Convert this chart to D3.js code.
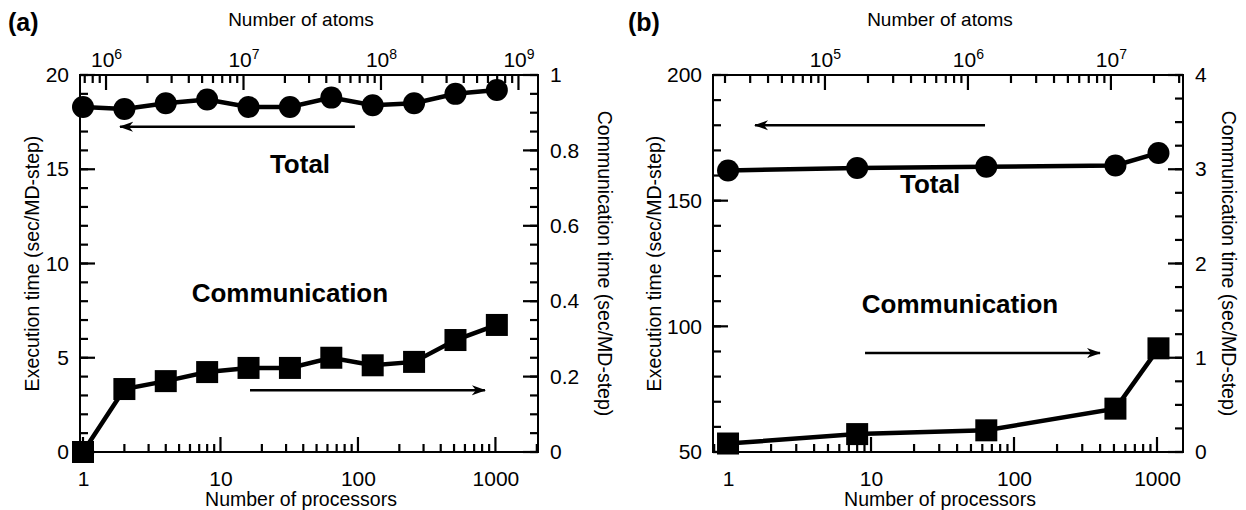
<!DOCTYPE html>
<html>
<head>
<meta charset="utf-8">
<script src="https://cdn.jsdelivr.net/npm/d3@7"></script>
<style>
  body { margin: 0; background: #fff; }
  svg { font-family: "Liberation Sans", Arial, sans-serif; }
  .tick text { font-size: 21px; fill: #000; }
</style>
</head>
<body>
<div id="chart"></div>
<script>
// data
var procA = [1, 2, 4, 8, 16, 32, 64, 128, 256, 512, 1024];
var totalA = [18.3, 18.2, 18.5, 18.7, 18.3, 18.3, 18.8, 18.4, 18.5, 19.0, 19.2];
var commA = [0, 0.167, 0.188, 0.212, 0.223, 0.223, 0.25, 0.23, 0.239, 0.297, 0.337];

var procB = [1, 8, 64, 512, 1024];
var totalB = [162, 163, 163.5, 164, 169];
var commB = [0.09, 0.19, 0.23, 0.46, 1.1];

// tick values
var procTicks = [1, 10, 100, 1000];
var atomTicksA = [1e6, 1e7, 1e8, 1e9];
var atomTicksB = [1e5, 1e6, 1e7];
var execTicksA = [0, 5, 10, 15, 20];
var commTicksA = [0, 0.2, 0.4, 0.6, 0.8, 1];
var execTicksB = [50, 100, 150, 200];
var commTicksB = [0, 1, 2, 3, 4];

var svgWidth = 1246;
var svgHeight = 510;

var svg = d3.select("#chart")
  .append("svg")
  .attr("width", svgWidth)
  .attr("height", svgHeight);

var defs = svg.append("defs");
defs.append("marker")
  .attr("id", "head")
  .attr("viewBox", "0 -6 14 12")
  .attr("refX", 13)
  .attr("refY", 0)
  .attr("markerWidth", 14)
  .attr("markerHeight", 12)
  .attr("markerUnits", "userSpaceOnUse")
  .attr("orient", "auto")
  .append("path")
  .attr("d", "M0,-5 L14,0 L0,5 L4,0 Z")
  .attr("fill", "#000");

// minor ticks of a log axis (2..9 of each decade)
function logMinor(domain) {
  var out = [];
  var lo = Math.floor(Math.log10(domain[0]));
  var hi = Math.ceil(Math.log10(domain[1]));
  for (var e = lo; e <= hi; e++) {
    for (var m = 2; m <= 9; m++) {
      var v = m * Math.pow(10, e);
      if (v >= domain[0] && v <= domain[1]) out.push(v);
    }
  }
  return out;
}

function linMinor(domain, step) {
  var out = [];
  var n = Math.round((domain[1] - domain[0]) / step);
  for (var i = 0; i <= n; i++) out.push(domain[0] + i * step);
  return out;
}

// inward tick marks
function tickLines(g, values, scale, side, pos, len) {
  var horiz = side == "bottom" || side == "top";
  var dir = (side == "bottom" || side == "right") ? -1 : 1;
  g.selectAll(null).data(values).enter()
    .append("line")
    .attr("x1", function(d) { return horiz ? scale(d) : pos; })
    .attr("x2", function(d) { return horiz ? scale(d) : pos + dir * len; })
    .attr("y1", function(d) { return horiz ? pos : scale(d); })
    .attr("y2", function(d) { return horiz ? pos + dir * len : scale(d); })
    .attr("stroke", "#000")
    .attr("stroke-width", 2.2);
}

function drawPanel(p) {
  var x = d3.scaleLog().domain(p.xDomain).range([p.left, p.right]);
  var topDomain = p.xDomain.map(function(v) { return v * p.atomsPerProc; });
  var xTop = d3.scaleLog().domain(topDomain).range([p.left, p.right]);
  var yL = d3.scaleLinear().domain(p.leftDomain).range([p.bottom, p.top]);
  var yR = d3.scaleLinear().domain(p.rightDomain).range([p.bottom, p.top]);

  var g = svg.append("g");

  // tick marks
  tickLines(g, logMinor(p.xDomain), x, "bottom", p.bottom, 8);
  tickLines(g, p.xTicks, x, "bottom", p.bottom, 15);
  tickLines(g, logMinor(topDomain), xTop, "top", p.top, 8);
  tickLines(g, p.topTicks, xTop, "top", p.top, 15);
  tickLines(g, linMinor(p.leftDomain, p.leftMinor), yL, "left", p.left, 8);
  tickLines(g, p.leftTicks, yL, "left", p.left, 15);
  tickLines(g, linMinor(p.rightDomain, p.rightMinor), yR, "right", p.right, 8);
  tickLines(g, p.rightTicks, yR, "right", p.right, 15);

  // tick labels
  g.append("g").attr("transform", `translate(0, ${p.bottom})`)
    .call(d3.axisBottom(x).tickValues(p.xTicks).tickSize(0).tickPadding(19).tickFormat(d3.format("d")));
  var topAx = g.append("g").attr("transform", `translate(0, ${p.top})`)
    .call(d3.axisTop(xTop).tickValues(p.topTicks).tickSize(0).tickPadding(8).tickFormat(""));
  topAx.selectAll(".tick text").each(function(d) {
    var t = d3.select(this);
    t.text("10");
    t.append("tspan")
      .attr("dy", "-0.55em")
      .attr("font-size", "14px")
      .text(Math.round(Math.log10(d)));
  });
  g.append("g").attr("transform", `translate(${p.left}, 0)`)
    .call(d3.axisLeft(yL).tickValues(p.leftTicks).tickSize(0).tickPadding(11).tickFormat(function(d) { return d; }));
  g.append("g").attr("transform", `translate(${p.right}, 0)`)
    .call(d3.axisRight(yR).tickValues(p.rightTicks).tickSize(0).tickPadding(12).tickFormat(function(d) { return d; }));

  g.selectAll(".domain").remove();

  // frame
  g.append("rect")
    .attr("x", p.left).attr("y", p.top)
    .attr("width", p.right - p.left).attr("height", p.bottom - p.top)
    .attr("fill", "none").attr("stroke", "#000").attr("stroke-width", 2);

  // axis titles
  g.append("text")
    .attr("x", (p.left + p.right) / 2 - 8).attr("y", 26)
    .attr("text-anchor", "middle").attr("font-size", "19px")
    .text("Number of atoms");
  g.append("text")
    .attr("x", (p.left + p.right) / 2 - 8).attr("y", 506)
    .attr("text-anchor", "middle").attr("font-size", "19.5px")
    .text("Number of processors");
  g.append("text")
    .attr("transform", `translate(${p.leftTitleX}, ${(p.top + p.bottom) / 2}) rotate(-90)`)
    .attr("text-anchor", "middle").attr("font-size", "19.5px")
    .text("Execution time (sec/MD-step)");
  g.append("text")
    .attr("transform", `translate(${p.rightTitleX}, ${(p.top + p.bottom) / 2}) rotate(90)`)
    .attr("text-anchor", "middle").attr("font-size", "19.5px")
    .text("Communication time (sec/MD-step)");
  g.append("text")
    .attr("x", p.tagX).attr("y", 31)
    .attr("font-size", "25px").attr("font-weight", "bold")
    .text(p.tag);

  // arrows
  g.append("line")
    .attr("x1", x(p.totalArrow[0])).attr("x2", x(p.totalArrow[1]))
    .attr("y1", yL(p.totalArrow[2])).attr("y2", yL(p.totalArrow[2]))
    .attr("stroke", "#000").attr("stroke-width", 2.5)
    .attr("marker-end", "url(#head)");
  g.append("line")
    .attr("x1", x(p.commArrow[0])).attr("x2", x(p.commArrow[1]))
    .attr("y1", yR(p.commArrow[2])).attr("y2", yR(p.commArrow[2]))
    .attr("stroke", "#000").attr("stroke-width", 2.5)
    .attr("marker-end", "url(#head)");

  // series labels
  g.append("text")
    .attr("x", x(p.totalLabel[0])).attr("y", yL(p.totalLabel[1]))
    .attr("text-anchor", "middle").attr("font-size", "26px").attr("font-weight", "bold")
    .text("Total");
  g.append("text")
    .attr("x", x(p.commLabel[0])).attr("y", yL(p.commLabel[1]))
    .attr("text-anchor", "middle").attr("font-size", "26px").attr("font-weight", "bold")
    .text("Communication");

  // total series (left axis)
  var totalLine = d3.line()
    .x(function(d, i) { return x(p.proc[i]); })
    .y(function(d) { return yL(d); });
  g.append("path")
    .datum(p.total)
    .attr("d", totalLine)
    .attr("fill", "none").attr("stroke", "#000").attr("stroke-width", 4.5);
  g.selectAll(null).data(p.total).enter()
    .append("circle")
    .attr("cx", function(d, i) { return x(p.proc[i]); })
    .attr("cy", function(d) { return yL(d); })
    .attr("r", 11)
    .attr("fill", "#000");

  // communication series (right axis)
  var commLine = d3.line()
    .x(function(d, i) { return x(p.proc[i]); })
    .y(function(d) { return yR(d); });
  g.append("path")
    .datum(p.comm)
    .attr("d", commLine)
    .attr("fill", "none").attr("stroke", "#000").attr("stroke-width", 4.5);
  g.selectAll(null).data(p.comm).enter()
    .append("rect")
    .attr("x", function(d, i) { return x(p.proc[i]) - 11; })
    .attr("y", function(d) { return yR(d) - 11; })
    .attr("width", 22).attr("height", 22)
    .attr("fill", "#000");
}

drawPanel({
  tag: "(a)", tagX: 8,
  left: 80, right: 538, top: 75, bottom: 452,
  xDomain: [0.951, 2040], atomsPerProc: 6.8e5,
  leftDomain: [0, 20], rightDomain: [0, 1],
  leftMinor: 1, rightMinor: 0.05,
  xTicks: procTicks, topTicks: atomTicksA,
  leftTicks: execTicksA, rightTicks: commTicksA,
  leftTitleX: 39, rightTitleX: 598,
  proc: procA, total: totalA, comm: commA,
  totalArrow: [95, 1.86, 17.25], commArrow: [16.4, 839, 0.164],
  totalLabel: [37.9, 14.8], commLabel: [32, 7.96]
});

drawPanel({
  tag: "(b)", tagX: 628,
  left: 713, right: 1183, top: 75, bottom: 452,
  xDomain: [0.785, 1520], atomsPerProc: 2.1e4,
  leftDomain: [50, 200], rightDomain: [0, 4],
  leftMinor: 10, rightMinor: 0.25,
  xTicks: procTicks, topTicks: atomTicksB,
  leftTicks: execTicksB, rightTicks: commTicksB,
  leftTitleX: 661, rightTitleX: 1222,
  proc: procB, total: totalB, comm: commB,
  totalArrow: [62.7, 1.545, 180], commArrow: [9.08, 399, 1.05],
  totalLabel: [25.9, 153], commLabel: [41.9, 105.3]
});
</script>
</body>
</html>
